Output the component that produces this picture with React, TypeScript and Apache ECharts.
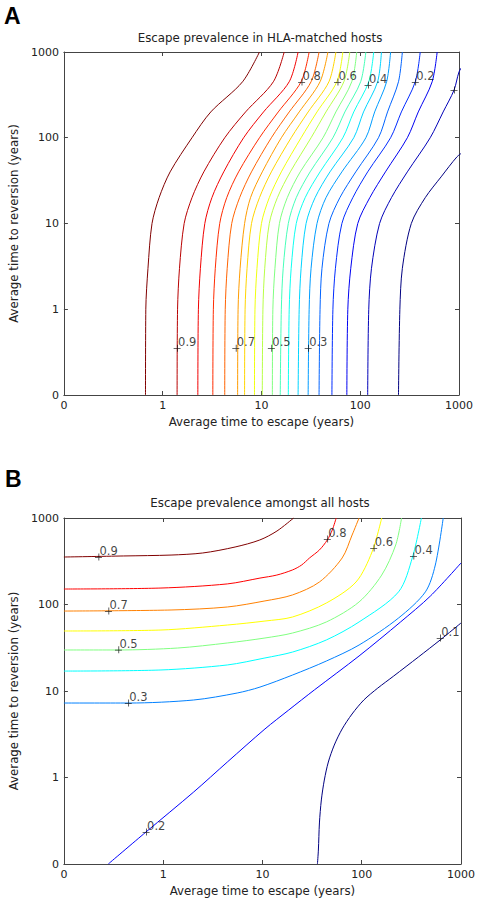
import React, { useEffect, useRef } from 'react';
import * as echarts from 'echarts';

// ---------- axis ticks ----------
const TICK_VALUES = [0.1, 1, 10, 100, 1000];
const TICK_LABELS = ['0', '1', '10', '100', '1000'];

// ---------- Panel A: escape prevalence in HLA-matched hosts ----------
const A_LEVELS = [0.95, 0.9, 0.85, 0.8, 0.75, 0.7, 0.65, 0.6, 0.55, 0.5, 0.45, 0.4, 0.35, 0.3, 0.25, 0.2, 0.15];
const A_Y = [0.1, 1, 3, 10, 20, 40, 100, 200, 450, 1000];
const A_X_095 = [0.67, 0.675, 0.71, 0.78, 0.92, 1.19, 1.98, 3.07, 6.44, 9.55];
const A_X_090 = [1.4, 1.415, 1.48, 1.65, 1.98, 2.61, 4.25, 6.91, 13.2, 17.0];
const A_X_085 = [2.27, 2.3, 2.41, 2.67, 3.15, 4.15, 6.6, 10.5, 19.1, 23.5];
const A_X_080 = [3.22, 3.26, 3.41, 3.78, 4.45, 5.87, 9.55, 14.8, 25.2, 30.4];
const A_X_075 = [4.25, 4.3, 4.5, 5.0, 6.01, 7.93, 12.6, 19.1, 31.8, 38.3];
const A_X_070 = [5.74, 5.8, 6.08, 6.75, 7.75, 10.2, 15.9, 24.1, 39.2, 47.1];
const A_X_065 = [6.75, 6.83, 7.15, 7.93, 9.55, 12.6, 20.0, 29.7, 48.2, 56.7];
const A_X_060 = [8.5, 8.6, 9.01, 10.0, 12.0, 15.9, 25.2, 36.5, 58.0, 66.7];
const A_X_055 = [10.2, 10.35, 10.8, 12.0, 14.5, 19.6, 31.8, 45.0, 68.3, 78.4];
const A_X_050 = [12.9, 13.05, 13.7, 15.2, 18.25, 24.7, 42.0, 56.7, 82.1, 92.2];
const A_X_045 = [15.5, 15.9, 16.6, 18.7, 22.5, 31.1, 52.9, 69.9, 101, 114];
const A_X_040 = [18.7, 19.1, 20.0, 22.5, 27.7, 39.2, 66.7, 86, 122, 137];
const A_X_035 = [23.5, 24.1, 25.2, 28.3, 34.9, 49.4, 86, 108, 150, 164];
const A_X_030 = [29.7, 30.4, 31.8, 36.5, 45.0, 65.2, 114, 140, 185, 203];
const A_X_025 = [38.3, 39.2, 41.0, 48.2, 62.2, 90.1, 153, 189, 244, 267];
const A_X_020 = [51.7, 52.9, 56.1, 65.2, 84.1, 119, 203, 261, 361, 405];
const A_X_015 = [73.2, 74.9, 80.2, 94.4, 125, 180, 300, 387, 535, 601];
const A_X_BY_LEVEL = [A_X_095, A_X_090, A_X_085, A_X_080, A_X_075, A_X_070, A_X_065, A_X_060, A_X_055,
  A_X_050, A_X_045, A_X_040, A_X_035, A_X_030, A_X_025, A_X_020, A_X_015];
// the two lowest levels leave through the right edge
const A_Y_010 = [0.1, 1, 3, 10, 20, 40, 100, 200, 360, 585, 700];
const A_X_010 = [119, 122, 130, 157, 207, 300, 511, 691, 891, 1000, 1100];
const A_Y_005 = [0.1, 1, 3, 10, 20, 35, 60, 68];
const A_X_005 = [244, 252, 267, 329, 455, 659, 955, 1100];

const A_LABEL_TEXT = ['0.9', '0.7', '0.5', '0.3', '0.8', '0.6', '0.4', '0.2', '0.1'];
const A_LABEL_X = [1.4, 5.5, 12.6, 29.7, 25.5, 59, 120, 361, 890];
const A_LABEL_Y = [0.35, 0.35, 0.35, 0.35, 447, 447, 412, 447, 360];

// ---------- Panel B: escape prevalence amongst all hosts ----------
const B_X_09 = [0.1, 0.4, 1.2, 2.5, 5.3, 9.4, 14, 20.6];
const B_Y_09 = [354, 364, 373, 394, 462, 557, 707, 1000];
const B_X_08 = [0.1, 0.95, 4.43, 9.44, 13.95, 20.1, 24.8, 29.8, 37.5, 45, 50.5, 55.3];
const B_Y_08 = [151, 155, 173, 202, 219, 251, 286, 345, 427, 557, 726, 1000];
const B_X_07 = [0.1, 1.2, 4.43, 10.6, 20.1, 37.5, 63.5, 80, 94];
const B_Y_07 = [84, 86.4, 93.6, 110, 129, 182, 345, 636, 1000];
const B_X_06 = [0.1, 0.95, 4.43, 10.6, 20.1, 44, 87.6, 127, 159];
const B_Y_06 = [49.4, 50.7, 57.9, 64.4, 71.7, 104, 182, 405, 1000];
const B_X_05 = [0.1, 0.35, 1.4, 4.43, 10.6, 20.1, 44, 94, 159, 220, 252];
const B_Y_05 = [29.8, 29.8, 31.4, 35.9, 41, 46.8, 62.8, 107, 219, 488, 1000];
const B_X_04 = [0.1, 0.95, 4.43, 10.6, 20.1, 44, 94, 235, 325, 399];
const B_Y_04 = [17, 17.5, 20, 24.1, 28.2, 38.9, 62.8, 140, 354, 1000];
const B_X_03 = [0.1, 0.45, 2.03, 5.57, 9.44, 20.1, 44, 94, 235, 438, 551, 662];
const B_Y_03 = [7.26, 7.26, 7.87, 9.48, 11.1, 15.3, 22.2, 34, 69.8, 140, 286, 1000];
const B_X_02 = [0.28, 0.67, 2.03, 4.43, 10.6, 18.4, 33.4, 94, 246, 491, 1000];
const B_Y_02 = [0.1, 0.234, 0.68, 1.51, 3.64, 6.03, 10.3, 25.4, 62.8, 125, 302];
const B_X_01 = [35.8, 36.6, 37.5, 39.2, 42.0, 46.1, 52.9, 63.5, 79.9, 105, 145, 210, 372, 617, 1000];
const B_Y_01 = [0.1, 0.145, 0.298, 0.55, 0.935, 1.51, 2.37, 3.64, 5.42, 7.87, 10.8, 14.9, 24.7, 38.9, 61.1];
const B_LEVELS = [0.9, 0.8, 0.7, 0.6, 0.5, 0.4, 0.3, 0.2, 0.1];
const B_X_BY_LEVEL = [B_X_09, B_X_08, B_X_07, B_X_06, B_X_05, B_X_04, B_X_03, B_X_02, B_X_01];
const B_Y_BY_LEVEL = [B_Y_09, B_Y_08, B_Y_07, B_Y_06, B_Y_05, B_Y_04, B_Y_03, B_Y_02, B_Y_01];

const B_LABEL_TEXT = ['0.9', '0.7', '0.5', '0.3', '0.2', '0.8', '0.6', '0.4', '0.1'];
const B_LABEL_X = [0.223, 0.281, 0.354, 0.445, 0.673, 45, 132, 332, 617];
const B_LABEL_Y = [354, 84, 30, 7.26, 0.234, 571, 450, 364, 41];

// ---------- style helpers ----------
const FONT = 'DejaVu Sans';
const AXIS_COLOR = '#444';

function jet(t: number): string {
  const c = (v: number) => Math.max(0, Math.min(1, v));
  const r = c(1.5 - Math.abs(4 * t - 3));
  const g = c(1.5 - Math.abs(4 * t - 2));
  const b = c(1.5 - Math.abs(4 * t - 1));
  return `rgb(${Math.round(r * 255)},${Math.round(g * 255)},${Math.round(b * 255)})`;
}

function tickFormatter(v: number): string {
  const i = TICK_VALUES.findIndex((t) => Math.abs(Math.log10(t) - Math.log10(v)) < 0.01);
  return i >= 0 ? TICK_LABELS[i] : '';
}

function zip(xs: number[], ys: number[]) {
  return xs.map((x, i) => [x, ys[i]]);
}

const PLUS = 'path://M0,4.5L9,4.5L9,5.5L0,5.5Z M4.5,0L5.5,0L5.5,9L4.5,9Z';

function mainXAxis(grid: number) {
  return {
    gridIndex: grid, type: 'log', logBase: 10, min: 0.1, max: 1000, position: 'bottom',
    name: 'Average time to escape (years)', nameLocation: 'middle', nameGap: 21,
    nameTextStyle: { fontFamily: FONT, fontSize: 11.8, color: '#222' },
    axisLine: { show: true, lineStyle: { color: AXIS_COLOR, width: 1 } },
    axisTick: { show: true, inside: true, length: 4, lineStyle: { color: AXIS_COLOR } },
    axisLabel: { show: true, formatter: tickFormatter, fontFamily: FONT, fontSize: 11, color: '#222', margin: 5 },
    splitLine: { show: false },
  };
}
function mirrorXAxis(grid: number) {
  return {
    gridIndex: grid, type: 'log', logBase: 10, min: 0.1, max: 1000, position: 'top',
    axisLine: { show: true, lineStyle: { color: AXIS_COLOR, width: 1 } },
    axisTick: { show: true, inside: true, length: 4, lineStyle: { color: AXIS_COLOR } },
    axisLabel: { show: false }, splitLine: { show: false },
  };
}
function mainYAxis(grid: number) {
  return {
    gridIndex: grid, type: 'log', logBase: 10, min: 0.1, max: 1000, position: 'left',
    name: 'Average time to reversion (years)', nameLocation: 'middle', nameGap: 38,
    nameTextStyle: { fontFamily: FONT, fontSize: 11.8, color: '#222' },
    axisLine: { show: true, lineStyle: { color: AXIS_COLOR, width: 1 } },
    axisTick: { show: true, inside: true, length: 4, lineStyle: { color: AXIS_COLOR } },
    axisLabel: { show: true, formatter: tickFormatter, fontFamily: FONT, fontSize: 11, color: '#222', margin: 5 },
    splitLine: { show: false },
  };
}
function mirrorYAxis(grid: number) {
  return {
    gridIndex: grid, type: 'log', logBase: 10, min: 0.1, max: 1000, position: 'right',
    axisLine: { show: true, lineStyle: { color: AXIS_COLOR, width: 1 } },
    axisTick: { show: true, inside: true, length: 4, lineStyle: { color: AXIS_COLOR } },
    axisLabel: { show: false }, splitLine: { show: false },
  };
}

function contour(axis: number, xs: number[], ys: number[], color: string) {
  return {
    type: 'line', xAxisIndex: axis, yAxisIndex: axis, data: zip(xs, ys),
    smooth: 0.3, showSymbol: false, symbol: 'none', silent: true, clip: true,
    lineStyle: { width: 1, color },
  };
}

function labelSeries(axis: number, texts: string[], xs: number[], ys: number[]) {
  return {
    type: 'scatter', xAxisIndex: axis, yAxisIndex: axis, silent: true, z: 5,
    symbol: PLUS, symbolSize: 7,
    itemStyle: { color: '#000' },
    data: texts.map((t, i) => ({
      name: t, value: [xs[i], ys[i]],
      label: (xs[i] >= 800) ? { width: 8, overflow: 'truncate', ellipsis: '' } : undefined,
    })),
    label: {
      show: true, formatter: '{b}', position: [4.5, -8.5], fontFamily: FONT, fontSize: 11.5, color: '#111',
    },
  };
}

export default function App() {
  const ref = useRef<HTMLDivElement>(null);
  useEffect(() => {
    if (!ref.current) return;
    const chart = echarts.init(ref.current, undefined, { renderer: 'svg' });
    const series: any[] = [];
    A_LEVELS.forEach((lv, i) => {
      series.push(contour(0, A_X_BY_LEVEL[i], A_Y, jet((lv - 0.05) / 0.9)));
    });
    series.push(contour(0, A_X_010, A_Y_010, jet((0.1 - 0.05) / 0.9)));
    series.push(contour(0, A_X_005, A_Y_005, jet(0)));
    series.push(labelSeries(0, A_LABEL_TEXT, A_LABEL_X, A_LABEL_Y));
    B_LEVELS.forEach((lv, i) => {
      series.push(contour(2, B_X_BY_LEVEL[i], B_Y_BY_LEVEL[i], jet((lv - 0.1) / 0.8)));
    });
    series.push(labelSeries(2, B_LABEL_TEXT, B_LABEL_X, B_LABEL_Y));

    chart.setOption({
      animation: false,
      backgroundColor: '#fff',
      grid: [
        { left: 61, top: 52, width: 398, height: 343 },
        { left: 60, top: 518, width: 401, height: 346 },
      ],
      xAxis: [mainXAxis(0), mirrorXAxis(0), mainXAxis(1), mirrorXAxis(1)],
      yAxis: [mainYAxis(0), mirrorYAxis(0), mainYAxis(1), mirrorYAxis(1)],
      series,
      graphic: [
        { type: 'text', x: 4, y: 4, style: { text: 'A', font: 'bold 23px "Liberation Sans", Arial, sans-serif', fill: '#000' } },
        { type: 'text', x: 5, y: 467, style: { text: 'B', font: 'bold 23px "Liberation Sans", Arial, sans-serif', fill: '#000' } },
        { type: 'text', x: 260, y: 38, style: { text: 'Escape prevalence in HLA-matched hosts', font: `11.8px "${FONT}"`, fill: '#222', textAlign: 'center', textVerticalAlign: 'middle' } },
        { type: 'text', x: 260, y: 503, style: { text: 'Escape prevalence amongst all hosts', font: `11.8px "${FONT}"`, fill: '#222', textAlign: 'center', textVerticalAlign: 'middle' } },
      ],
    });
    return () => chart.dispose();
  }, []);
  return <div ref={ref} style={{ position: 'fixed', left: 0, top: 0, width: 479, height: 904, background: '#fff' }} />;
}
